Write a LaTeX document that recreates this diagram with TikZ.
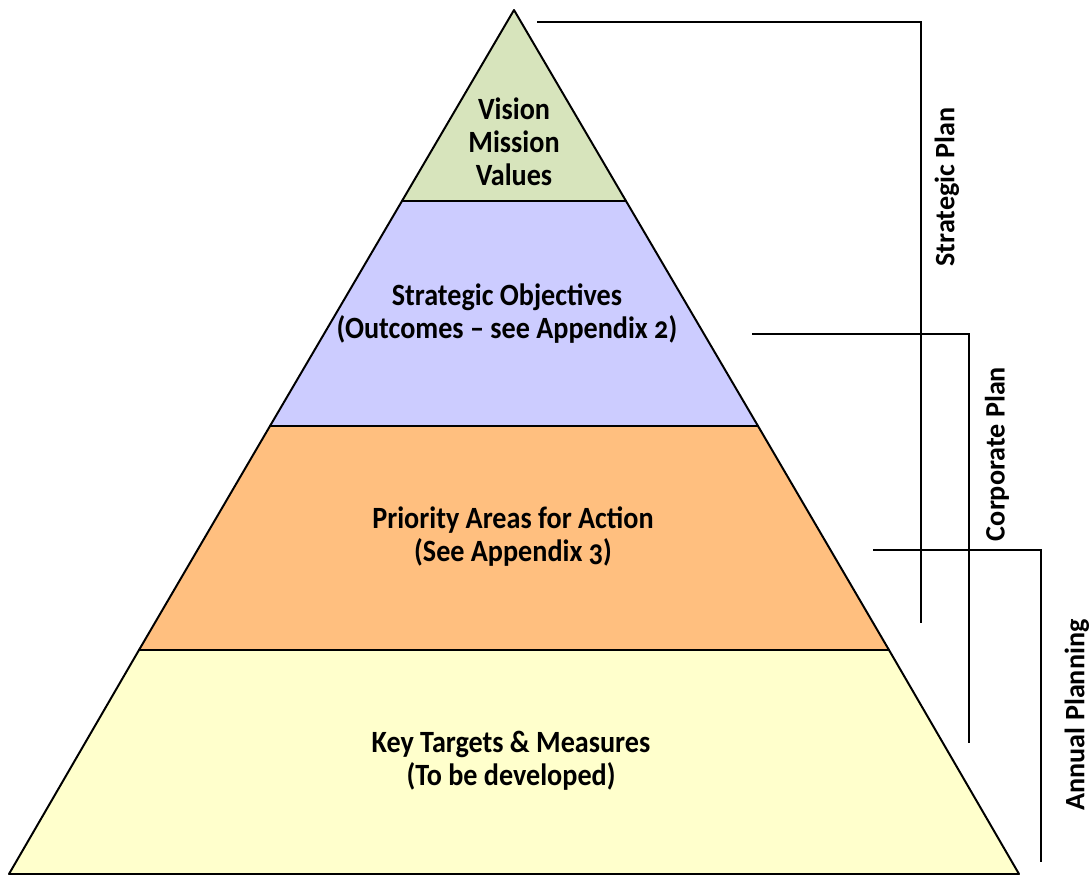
\documentclass[tikz,border=0pt]{standalone}
\usepackage{fontspec}
\setmainfont{Carlito}
\newfontfamily\pyrfont[Numbers=OldStyle, FakeStretch=0.91]{Carlito}
\usetikzlibrary{positioning}

\definecolor{visiongreen}{HTML}{D7E4BC}
\definecolor{objblue}{HTML}{CCCCFF}
\definecolor{prioorange}{HTML}{FFBF7F}
\definecolor{keyyellow}{HTML}{FFFFCC}

\tikzset{
  layer/.style={draw=black, line width=1.4pt, line join=round},
  layertext/.style={align=center, font=\pyrfont\bfseries\fontsize{22}{23.5}\selectfont},
  bracket/.style={draw=black, line width=1.2pt},
  planlabel/.style={rotate=90, font=\bfseries\fontsize{20}{24}\selectfont}
}

\begin{document}
\begin{tikzpicture}[x=0.025cm, y=-0.025cm]
    \useasboundingbox (0,0) rectangle (1092,875);

    % pyramid layers
    \path[layer, fill=keyyellow]   (139,650) -- (889,650) -- (1019,874) -- (9,874) -- cycle;
    \path[layer, fill=prioorange]  (270,426) -- (758,426) -- (889,650) -- (139,650) -- cycle;
    \path[layer, fill=objblue]     (402,201) -- (626,201) -- (758,426) -- (270,426) -- cycle;
    \path[layer, fill=visiongreen] (514,10) -- (626,201) -- (402,201) -- cycle;

    \node[layertext] (vision) at (514,142) {Vision\\Mission\\Values};
    \node[layertext] (objectives) at (507,314) {Strategic Objectives\\(Outcomes – see Appendix 2)};
    \node[layertext] (priority) at (513,537) {Priority Areas for Action\\(See Appendix 3)};
    \node[layertext] (targets) at (511,761) {Key Targets \& Measures\\(To be developed)};

    % plan brackets
    \coordinate (strat top) at (537,22);
    \coordinate (strat corner) at (921,22);
    \coordinate (strat end) at (921,623);
    \coordinate (corp top) at (752,334);
    \coordinate (corp corner) at (969,334);
    \coordinate (corp end) at (969,743);
    \coordinate (ann top) at (873,550);
    \coordinate (ann corner) at (1041,550);
    \coordinate (ann end) at (1041,862);

    \draw[bracket] (strat top) -- (strat corner) -- (strat end);
    \draw[bracket] (corp top) -- (corp corner) -- (corp end);
    \draw[bracket] (ann top) -- (ann corner) -- (ann end);

    \node[planlabel] (strat label) at (947,187) {Strategic Plan};
    \node[planlabel] (corp label) at (997,454) {Corporate Plan};
    \node[planlabel] (ann label) at (1077,715) {Annual Planning};
\end{tikzpicture}
\end{document}
